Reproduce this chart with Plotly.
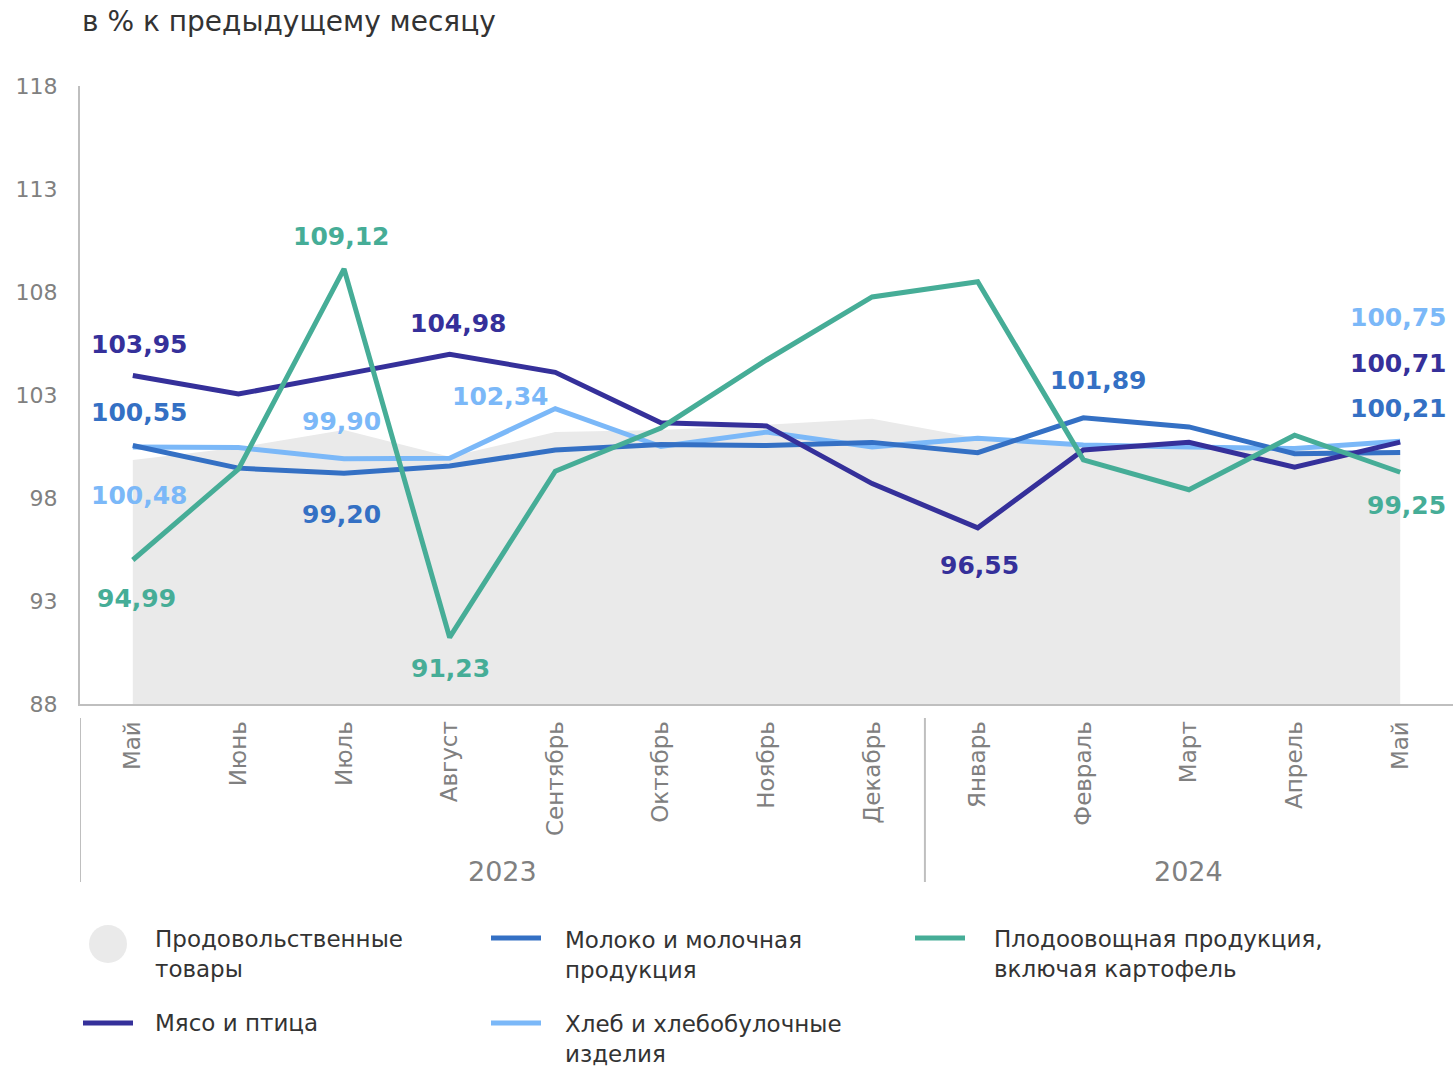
import plotly.graph_objects as go

# ---------------- data ----------------
months = ["Май", "Июнь", "Июль", "Август", "Сентябрь", "Октябрь", "Ноябрь",
          "Декабрь", "Январь", "Февраль", "Март", "Апрель", "Май"]
years = ["2023", "2024"]

food = [99.85, 100.45, 101.3, 100.0, 101.2, 101.3, 101.55, 101.85, 100.9, 100.6, 100.5, 100.35, 100.3]
meat = [103.95, 103.05, 104.0, 104.98, 104.1, 101.65, 101.5, 98.7, 96.55, 100.33, 100.7, 99.5, 100.71]
milk = [100.55, 99.45, 99.20, 99.55, 100.33, 100.6, 100.55, 100.7, 100.2, 101.89, 101.45, 100.15, 100.21]
bread = [100.48, 100.45, 99.90, 99.93, 102.34, 100.5, 101.2, 100.48, 100.9, 100.57, 100.48, 100.4, 100.75]
veg = [94.99, 99.4, 109.12, 91.23, 99.3, 101.4, 104.7, 107.76, 108.5, 99.85, 98.4, 101.05, 99.25]

y_ticks = [88, 93, 98, 103, 108, 113, 118]

names = {
    "food": "Продовольственные<br>товары",
    "milk": "Молоко и молочная<br>продукция",
    "veg": "Плодоовощная продукция,<br>включая картофель",
    "meat": "Мясо и птица",
    "bread": "Хлеб и хлебобулочные<br>изделия",
}
colors = {
    "food": "#EAEAEA",
    "meat": "#35309A",
    "milk": "#3470C4",
    "bread": "#7BB8F8",
    "veg": "#46AD97",
}
series = {"meat": meat, "milk": milk, "bread": bread, "veg": veg}

# labelled points: (series, index, xshift, yshift)
labels = [
    ("meat", 0, 6, 31), ("milk", 0, 6, 33), ("bread", 0, 6, -49), ("veg", 0, 4, -38),
    ("veg", 2, -3, 32), ("bread", 2, -3, 37), ("milk", 2, -3, -41),
    ("meat", 3, 8, 31), ("veg", 3, 1, -31),
    ("bread", 4, -55, 12),
    ("meat", 8, 2, -38),
    ("milk", 9, 15, 37),
    ("bread", 12, -2, 124), ("meat", 12, -2, 79), ("milk", 12, -2, 44), ("veg", 12, 6, -33),
]

FONT = "DejaVu Sans"
W, H = 1453, 1066
L, R, T, B = 80, 0, 86, 362
x_idx = list(range(len(months)))

fig = go.Figure()
fig.add_trace(go.Scatter(x=x_idx, y=food, mode="lines", fill="tozeroy",
                         fillcolor=colors["food"], line=dict(width=0, color=colors["food"]),
                         showlegend=False, hoverinfo="skip"))
for key in ["bread", "milk", "meat", "veg"]:
    fig.add_trace(go.Scatter(x=x_idx, y=series[key], mode="lines",
                             line=dict(color=colors[key], width=5),
                             name=names[key], showlegend=False))

for key, i, dx, dy in labels:
    v = series[key][i]
    fig.add_annotation(x=i, y=v, xref="x", yref="y",
                       text="<b>" + f"{v:.2f}".replace(".", ",") + "</b>",
                       showarrow=False, xshift=dx, yshift=dy,
                       font=dict(family=FONT, size=25, color=colors[key]),
                       xanchor="center", yanchor="middle")

pw, ph = W - L - R, H - T - B


def px(xp):
    return (xp - L) / pw


def py(yp):
    return (H - B - yp) / ph


# title
fig.add_annotation(x=px(80), y=py(22), xref="paper", yref="paper", text="в % к предыдущему месяцу",
                   showarrow=False, xanchor="left", yanchor="middle",
                   font=dict(family=FONT, size=28, color="#333333"))

# year labels
fig.add_annotation(x=3.5, y=py(872), xref="x", yref="paper", text=years[0], showarrow=False,
                   font=dict(family=FONT, size=27, color="#808080"), yanchor="middle")
fig.add_annotation(x=10, y=py(872), xref="x", yref="paper", text=years[1], showarrow=False,
                   font=dict(family=FONT, size=27, color="#808080"), yanchor="middle")

# group dividers
for xv in [-0.5, 7.5]:
    fig.add_shape(type="line", xref="x", yref="paper", x0=xv, x1=xv, y0=py(718), y1=py(882),
                  line=dict(color="#BFBFBF", width=2))

# manual legend
legend_items = [
    ("food", 108, 944, 153, 954),
    ("milk", 516, 938, 563, 955),
    ("veg", 940, 938, 992, 954),
    ("meat", 108, 1023, 153, 1023),
    ("bread", 516, 1023, 563, 1039),
]
for key, sx, sy, tx, ty in legend_items:
    if key == "food":
        fig.add_shape(type="circle", xref="paper", yref="paper",
                      xsizemode="pixel", ysizemode="pixel",
                      xanchor=px(sx), yanchor=py(sy), x0=-19, x1=19, y0=-19, y1=19,
                      fillcolor=colors[key], line=dict(width=0))
    else:
        fig.add_shape(type="line", xref="paper", yref="paper",
                      x0=px(sx - 25), x1=px(sx + 25), y0=py(sy), y1=py(sy),
                      line=dict(color=colors[key], width=5))
    fig.add_annotation(x=px(tx), y=py(ty), xref="paper", yref="paper", text=names[key],
                       showarrow=False, xanchor="left", yanchor="middle", align="left",
                       font=dict(family=FONT, size=23, color="#333333"))

fig.update_layout(
    width=W, height=H,
    margin=dict(l=L, r=R, t=T, b=B, pad=0),
    paper_bgcolor="white", plot_bgcolor="white",
    font=dict(family=FONT),
    showlegend=False,
    xaxis=dict(range=[-0.5, 12.5], tickmode="array", tickvals=x_idx, ticktext=months,
               tickangle=-90, showgrid=False, zeroline=False,
               showline=True, linecolor="#BFBFBF", linewidth=2,
               ticks="outside", ticklen=6, tickcolor="rgba(0,0,0,0)",
               tickfont=dict(family=FONT, size=23, color="#808080")),
    yaxis=dict(range=[88, 118], tickmode="array", tickvals=y_ticks,
               showgrid=False, zeroline=False,
               showline=True, linecolor="#BFBFBF", linewidth=2,
               ticks="outside", ticklen=16, tickcolor="rgba(0,0,0,0)",
               tickfont=dict(family=FONT, size=22, color="#808080")),
)

fig.write_html("out.html", config={"displayModeBar": False},
               post_script="document.body.style.margin='0';document.body.style.overflow='hidden';")
